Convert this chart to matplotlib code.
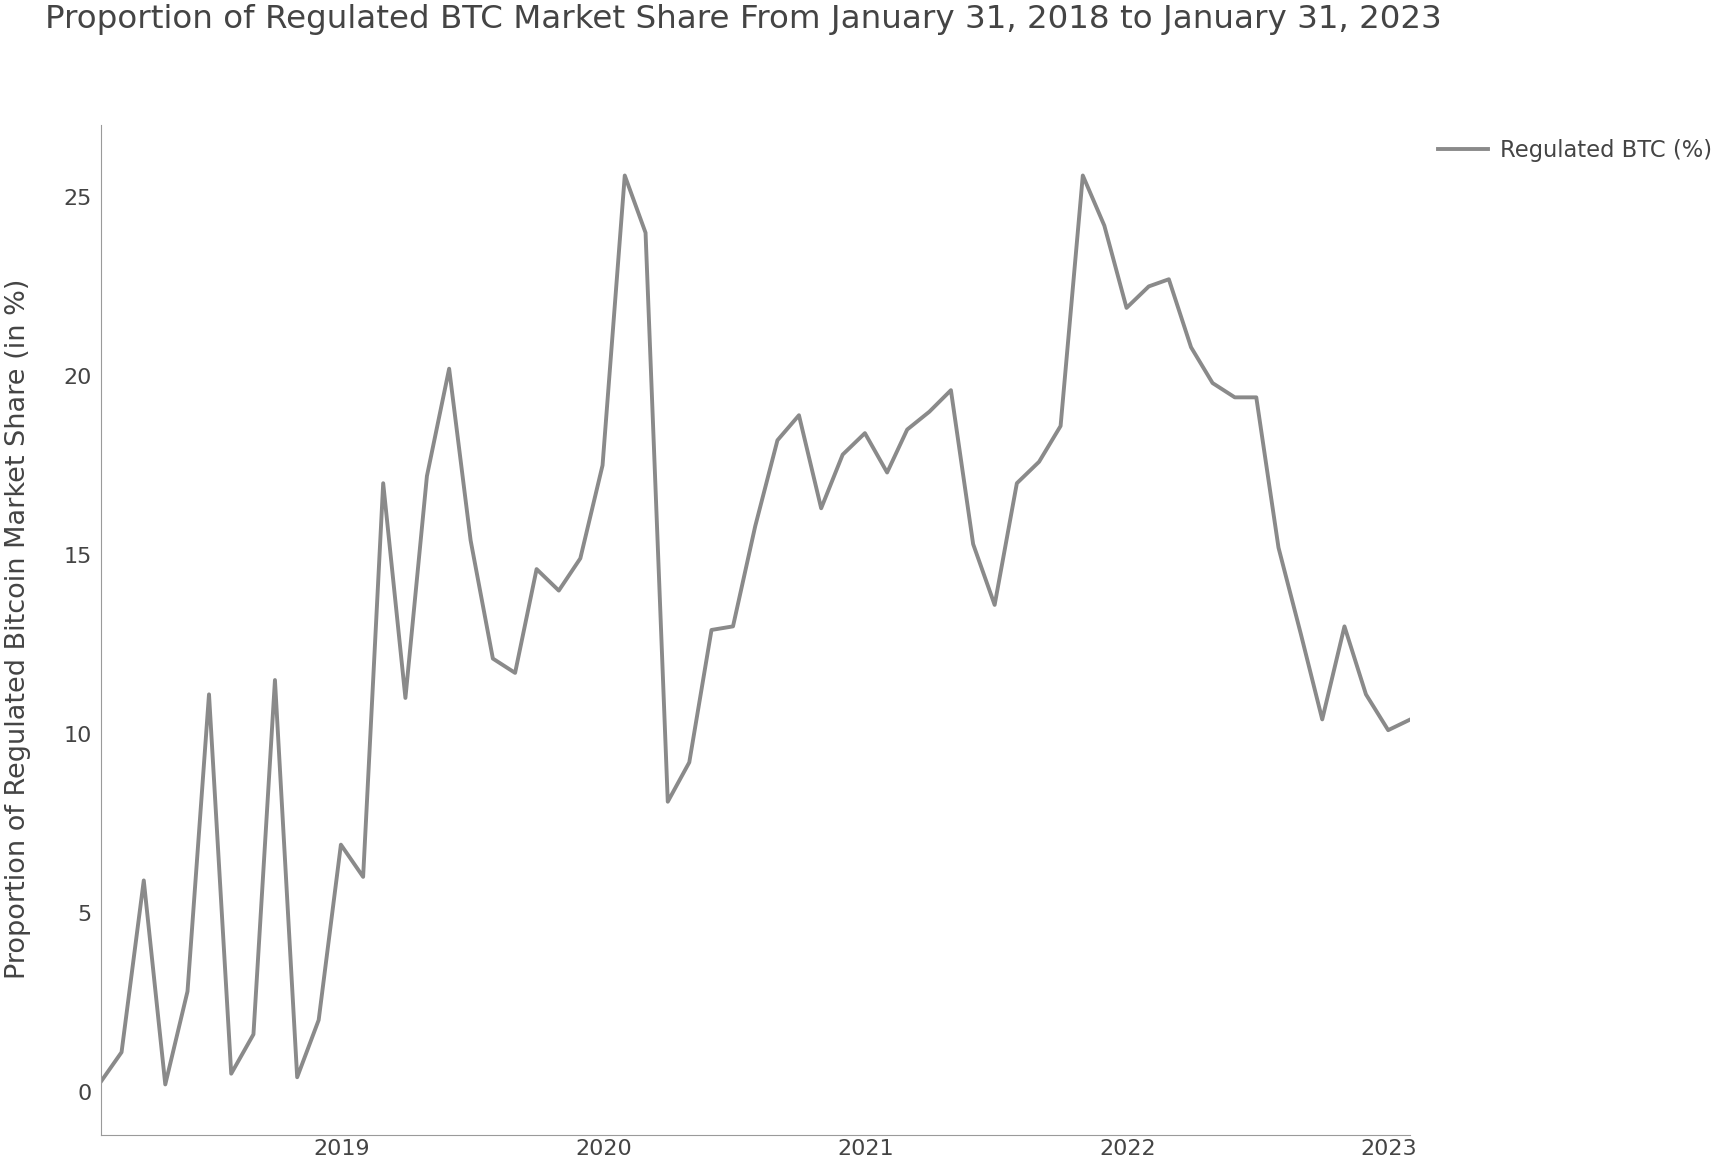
import pandas as pd
import matplotlib
matplotlib.use('Agg')
import matplotlib.pyplot as plt
import matplotlib.dates as mdates

# month-end dates, Jan 31 2018 .. Jan 31 2023
dates = pd.date_range('2018-01-31', '2023-01-31', freq='ME')

# regulated share (%)
regulated_btc = [
    0.3, 1.1, 5.9, 0.2, 2.8, 11.1, 0.5, 1.6, 11.5, 0.4, 2.0, 6.9,
    6.0, 17.0, 11.0, 17.2, 20.2, 15.4, 12.1, 11.7, 14.6, 14.0, 14.9, 17.5,
    25.6, 24.0, 8.1, 9.2, 12.9, 13.0, 15.8, 18.2, 18.9, 16.3, 17.8, 18.4,
    17.3, 18.5, 19.0, 19.6, 15.3, 13.6, 17.0, 17.6, 18.6, 25.6, 24.2, 21.9,
    22.5, 22.7, 20.8, 19.8, 19.4, 19.4, 15.2, 12.8, 10.4, 13.0, 11.1, 10.1,
    10.4,
]

series_name = 'Regulated BTC (%)'
title = 'Proportion of Regulated BTC Market Share From January 31, 2018 to January 31, 2023'
ylabel = 'Proportion of Regulated Bitcoin Market Share (in %)'
yticks = [0, 5, 10, 15, 20, 25]

txt = '#444444'
plt.rcParams['font.family'] = ['DejaVu Sans']

fig = plt.figure(figsize=(17.2, 11.66), dpi=100)
ax = fig.add_axes([0.059, 0.027, 0.761, 0.867])

ax.plot(dates, regulated_btc, color='#8a8a8a', linewidth=2.8, label=series_name)

ax.set_xlim(dates[0], dates[-1])
ax.set_ylim(-1.2, 27.05)
ax.set_yticks(yticks)
ax.xaxis.set_major_locator(mdates.YearLocator())
ax.xaxis.set_major_formatter(mdates.DateFormatter('%Y'))

for side in ['top', 'right']:
    ax.spines[side].set_visible(False)
for side in ['left', 'bottom']:
    ax.spines[side].set_color('#9a9a9a')
    ax.spines[side].set_linewidth(0.8)
    ax.spines[side].set_linestyle((0, (1, 1)))
ax.tick_params(length=0, labelsize=16, colors=txt, pad=7)
ax.tick_params(axis='x', pad=3)

ax.set_ylabel(ylabel, fontsize=19.5, color=txt)
ax.yaxis.set_label_coords(-0.054, 0.5)
fig.text(0.026, 0.983, title, fontsize=23.4, color=txt, ha='left', va='center')

leg = fig.legend(loc='center left', bbox_to_anchor=(0.8295, 0.871), frameon=False,
                 fontsize=16.3, handlelength=2.2, handletextpad=0.55, borderpad=0)
for t in leg.get_texts():
    t.set_color(txt)

fig.savefig('out.png', dpi=100)
